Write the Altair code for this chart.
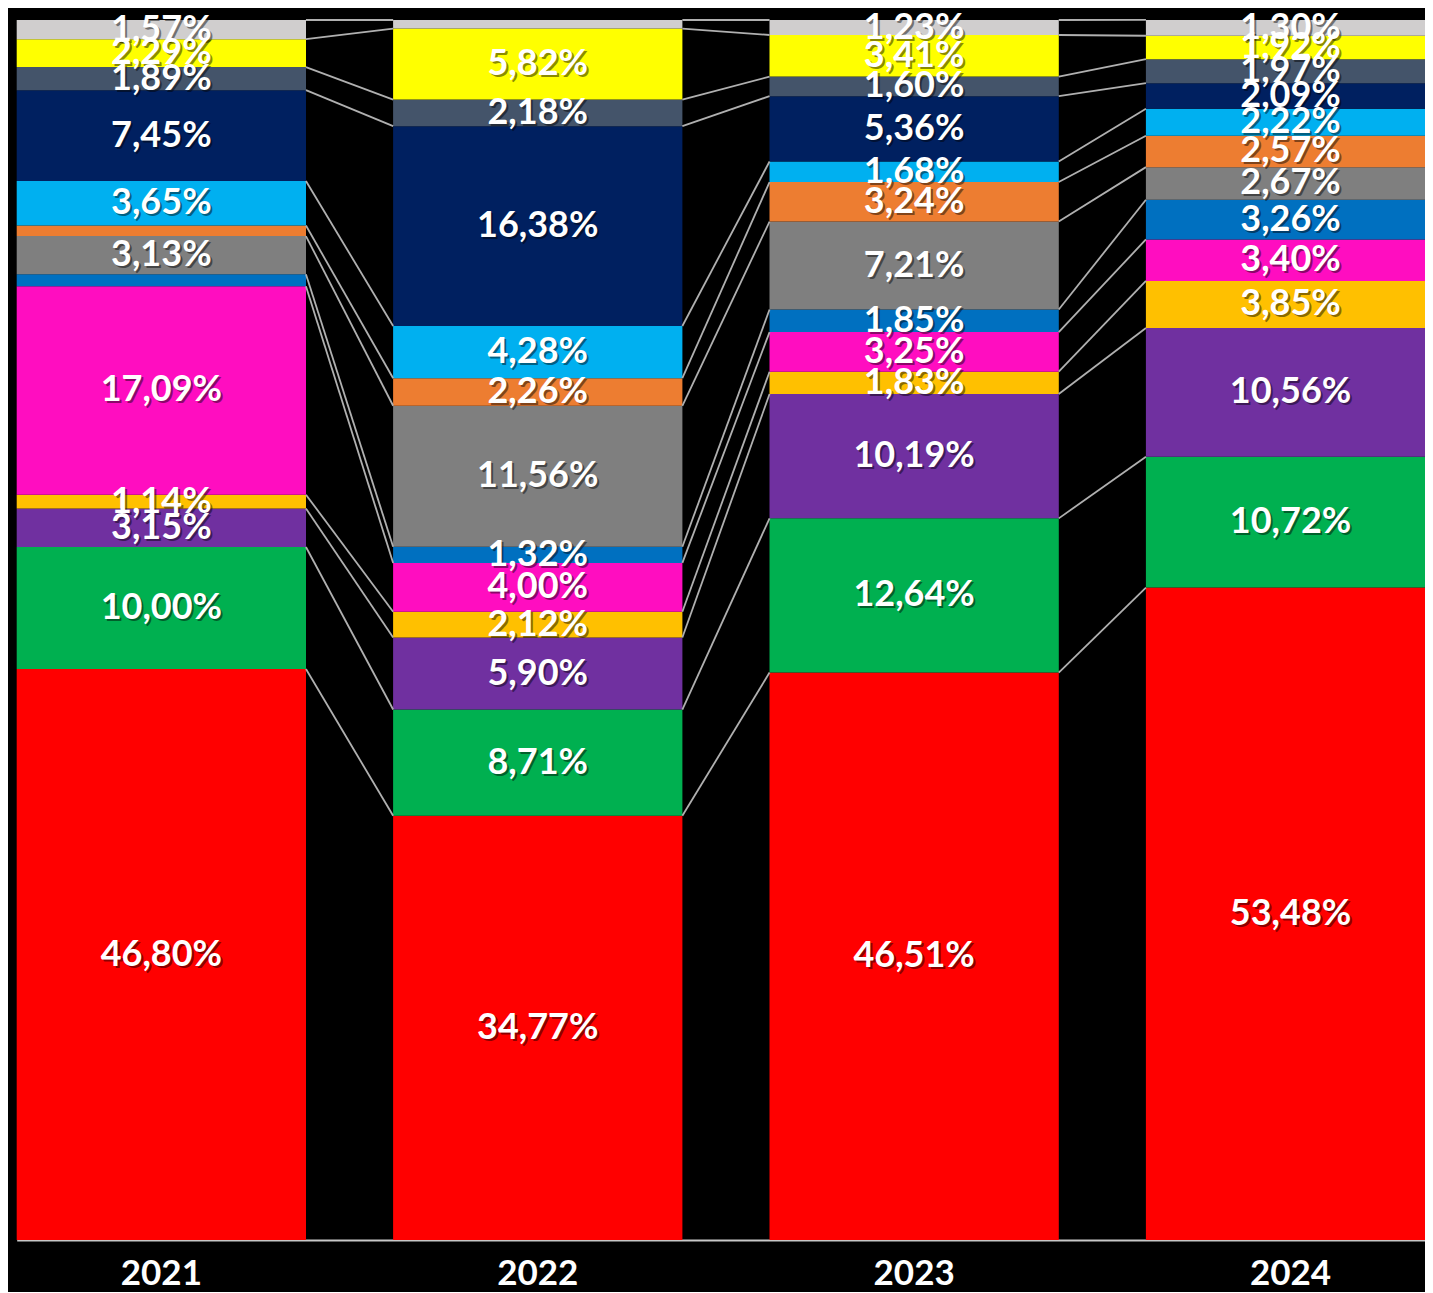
import altair as alt
import pandas as pd

years = ["2021", "2022", "2023", "2024"]

# series from bottom to top of each stacked column (shares in %)
red = [46.80, 34.77, 46.51, 53.48]
green = [10.00, 8.71, 12.64, 10.72]
purple = [3.15, 5.90, 10.19, 10.56]
gold = [1.14, 2.12, 1.83, 3.85]
magenta = [17.09, 4.00, 3.25, 3.40]
blue = [0.98, 1.32, 1.85, 3.26]
gray = [3.13, 11.56, 7.21, 2.67]
orange = [0.86, 2.26, 3.24, 2.57]
light_blue = [3.65, 4.28, 1.68, 2.22]
navy = [7.45, 16.38, 5.36, 2.09]
slate = [1.89, 2.18, 1.60, 1.97]
yellow = [2.29, 5.82, 3.41, 1.92]
light_gray = [1.57, 0.70, 1.23, 1.30]

series_names = ["red", "green", "purple", "gold", "magenta", "blue", "gray",
                "orange", "light_blue", "navy", "slate", "yellow", "light_gray"]
series_values = [red, green, purple, gold, magenta, blue, gray,
                 orange, light_blue, navy, slate, yellow, light_gray]
series_colors = ["#FF0000", "#00B050", "#7030A0", "#FFC000", "#FF0DC0", "#0070C0",
                 "#7F7F7F", "#ED7D31", "#00B0F0", "#002060", "#44546A", "#FFFF00",
                 "#D0CECE"]

# build stacked table
rows = []
tops = {}
for yi, yr in enumerate(years):
    cum = 0.0
    for si, (name, vals) in enumerate(zip(series_names, series_values)):
        v = vals[yi]
        lo = cum
        cum += v
        tops[(name, yi)] = cum
        rows.append({
            "year": yr, "series": name, "order": si, "value": v,
            "lo": lo, "hi": cum, "mid": (lo + cum) / 2,
            "label": f"{v:.2f}".replace(".", ",") + "%",
            "show": v > 1.1,
        })
df = pd.DataFrame(rows)

links = []
for name in series_names:
    for yi in range(len(years) - 1):
        links.append({"series": name, "year": years[yi], "next": years[yi + 1],
                      "y": tops[(name, yi)], "y2": tops[(name, yi + 1)]})
links_df = pd.DataFrame(links)

xscale = alt.Scale(domain=years, range=[8.7, 1427.2], paddingInner=0.2314, paddingOuter=0)
yscale = alt.Scale(domain=[0, 100], nice=False, zero=True)

xaxis = alt.Axis(title=None, labelAngle=0, labelFont="Lato", labelFontSize=35,
                 labelFontWeight="bold", labelColor="white", domainColor="#C8C8C8",
                 domainWidth=2, ticks=False, tickSize=0, labelPadding=33,
                 labelBaseline="middle", grid=False)

base = alt.Chart(df)

bars = base.mark_bar().encode(
    x=alt.X("year:N", scale=xscale, axis=xaxis),
    y=alt.Y("lo:Q", scale=yscale, axis=None),
    y2="hi:Q",
    color=alt.Color("series:N", scale=alt.Scale(domain=series_names, range=series_colors), legend=None),
)

rules = alt.Chart(links_df).mark_rule(color="#B0B0B0", strokeWidth=1.8,
                                      xOffset=144.6, x2Offset=-144.6).encode(
    x=alt.X("year:N", scale=xscale, axis=xaxis),
    x2="next:N",
    y=alt.Y("y:Q", scale=yscale, axis=None),
    y2="y2:Q",
)

labels_src = base.transform_filter("datum.show")

shadow = labels_src.mark_text(font="Lato", fontSize=36, fontWeight="bold", color="black",
                              opacity=0.45, dx=2, dy=2, baseline="middle").encode(
    x=alt.X("year:N", scale=xscale, axis=xaxis),
    y=alt.Y("mid:Q", scale=yscale, axis=None),
    text="label:N",
)

labels = labels_src.mark_text(font="Lato", fontSize=36, fontWeight="bold", color="white",
                              baseline="middle").encode(
    x=alt.X("year:N", scale=xscale, axis=xaxis),
    y=alt.Y("mid:Q", scale=yscale, axis=None),
    text="label:N",
)

chart = alt.layer(bars, rules, shadow, labels).properties(
    width=1417, height=1220,
    autosize=alt.AutoSizeParams(type="none"),
    padding={"left": 0, "top": 12, "right": 0, "bottom": 52},
    background="black",
).configure_view(strokeWidth=0)

chart.save("out.html", embed_options={"renderer": "svg", "actions": False})
